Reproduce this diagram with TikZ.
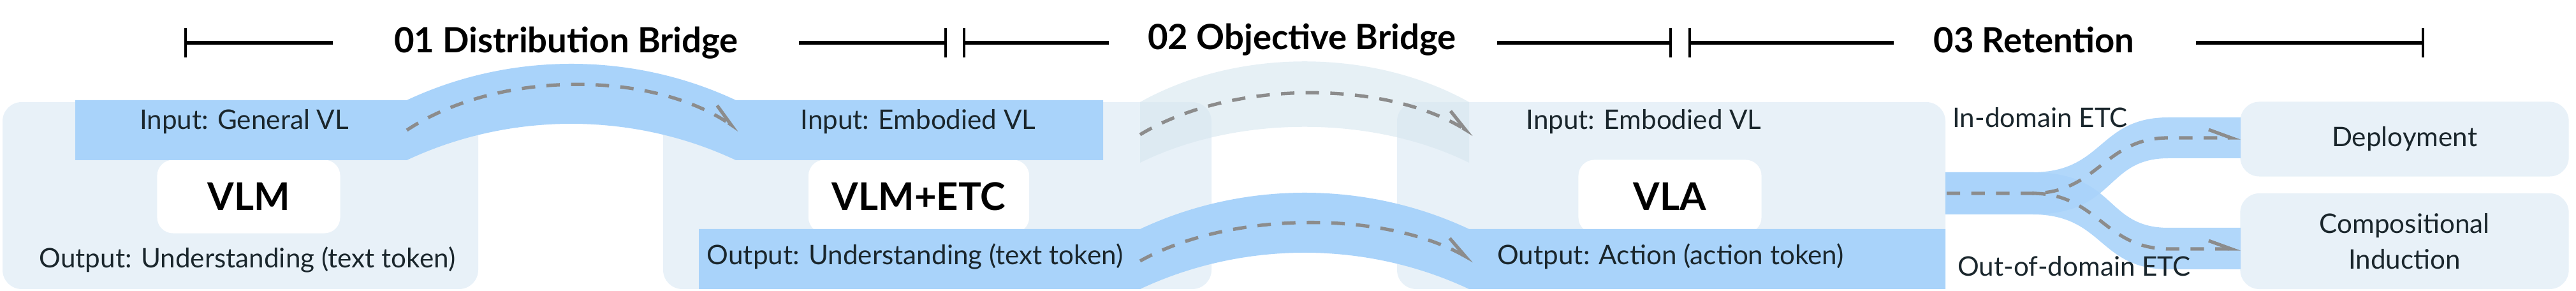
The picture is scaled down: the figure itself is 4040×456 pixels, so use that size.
\documentclass[tikz,border=0pt]{standalone}
\usepackage{fontspec}
\setmainfont{Lato}
\usetikzlibrary{arrows.meta}
\definecolor{panelc}{HTML}{E8F1F8}
\definecolor{bandc}{HTML}{A9D3FA}
\definecolor{ghostc}{HTML}{D6E6EF}
\definecolor{dashc}{HTML}{8C8C8C}
\definecolor{txtc}{HTML}{1A262C}
\begin{document}
\begin{tikzpicture}[x=0.01cm,y=-0.01cm,
  panel/.style={fill=panelc,rounded corners=0.3cm},
  wbox/.style={fill=white,rounded corners=0.25cm},
  band/.style={fill=bandc},
  flow/.style={draw=dashc,line width=1.5pt,dash pattern=on 6pt off 5pt,-{Straight Barb[left,length=10pt,angle'=40,line width=1.5pt]}},
  lbl/.style={text=txtc,font=\fontsize{12}{14}\selectfont},
  model/.style={font=\fontsize{17}{20}\selectfont\bfseries},
  ttl/.style={font=\fontsize{15.5}{18}\selectfont\bfseries},
  brk/.style={line width=1.5pt},
  tick/.style={line width=0.9pt}]
\useasboundingbox (0,0) rectangle (4040,456);
% panels
\fill[panel] (4,160) rectangle (750,453);
\fill[panel] (1040,160) rectangle (1900,453);
\fill[panel] (2191,160) rectangle (3051,453);
\node[panel,minimum width=5.15cm,minimum height=1.17cm] (dep) at (3771,218) {};
\node[panel,minimum width=5.15cm,minimum height=1.5cm] (ci) at (3771,378) {};
% white model boxes
\node[wbox,minimum width=2.87cm,minimum height=1.15cm] (vlm) at (390,308) {};
\node[wbox,minimum width=3.46cm,minimum height=1.15cm] (vlmetc) at (1441,308) {};
\node[wbox,minimum width=2.87cm,minimum height=1.15cm] (vla) at (2619,308) {};
% ghost arch
\fill[ghostc,opacity=0.6] (1788,160) .. controls (1940,75) and (2152,75) .. (2304,160) -- (2304,255) .. controls (2152,180) and (1940,180) .. (1788,255) -- cycle;
% input band
\fill[band] (118,157) -- (638,157) .. controls (800,81) and (992,81) .. (1154,157) -- (1730,157) -- (1730,251) -- (1154,251) .. controls (992,175) and (800,175) .. (638,251) -- (118,251) -- cycle;
% output band
\fill[band] (1096,359) -- (1788,359) .. controls (1950,283) and (2142,283) .. (2304,359) -- (3051,359) -- (3051,453) -- (2304,453) .. controls (2142,377) and (1950,377) .. (1788,453) -- (1096,453) -- cycle;
% retention branches
\fill[band,opacity=0.9] (3051,270) -- (3187,270) .. controls (3300,270) and (3290,184) .. (3401,184) -- (3514,184) -- (3514,248) -- (3401,248) .. controls (3300,248) and (3320,336) .. (3187,336) -- (3051,336) -- cycle;
\fill[band,opacity=0.9] (3051,270) -- (3187,270) .. controls (3320,270) and (3300,357) .. (3401,357) -- (3514,357) -- (3514,422) -- (3401,422) .. controls (3290,422) and (3300,336) .. (3187,336) -- (3051,336) -- cycle;
% texts
\node[model] (tvlm) at (vlm) {VLM};
\node[model] (tvlmetc) at (vlmetc) {VLM+ETC};
\node[model] (tvla) at (vla) {VLA};
\node[lbl] (in1) at (383,191) {Input: General VL};
\node[lbl] (in2) at (1440,191) {Input: Embodied VL};
\node[lbl] (in3) at (2578,191) {Input: Embodied VL};
\node[lbl] (out1) at (388,407) {Output: Understanding (text token)};
\node[lbl] (out2) at (1435,402) {Output: Understanding (text token)};
\node[lbl] (out3) at (2620,402) {Output: Action (action token)};
\node[lbl,anchor=west] (indom) at (3050,184) {In-domain ETC};
\node[lbl,anchor=west] (outdom) at (3058,417) {Out-of-domain ETC};
\node[lbl] (tdep) at (dep) {Deployment};
\node[lbl,align=center] (tci) at (ci) {Compositional\\[2pt]Induction};
% flow coordinates
\coordinate (a1) at (638,204); \coordinate (b1) at (1159,204);
\coordinate (a2) at (1788,211); \coordinate (b2) at (2311,211);
\coordinate (a3) at (1788,409); \coordinate (b3) at (2311,409);
\coordinate (r0) at (3053,303); \coordinate (r1) at (3187,303);
\coordinate (ru) at (3514,216); \coordinate (rl) at (3514,390);
\draw[flow] (a1) .. controls (780,110) and (1020,110) .. (b1);
\draw[flow] (a2) .. controls (1930,125) and (2170,125) .. (b2);
\draw[flow] (a3) .. controls (1930,330) and (2170,330) .. (b3);
\draw[flow] (r0) -- (r1) .. controls (3290,303) and (3300,216) .. (3401,216) -- (ru);
\draw[flow] (r1) .. controls (3290,303) and (3300,390) .. (3401,390) -- (rl);
% title brackets
\node[ttl] (t1) at (888,67) {01 Distribution Bridge};
\node[ttl] (t2) at (2042,62) {02 Objective Bridge};
\node[ttl] (t3) at (3190,62) {03 Retention};
\coordinate (s1) at (291,67); \coordinate (e1) at (1483,67);
\coordinate (s2) at (1512,67); \coordinate (e2) at (2620,67);
\coordinate (s3) at (2650,67); \coordinate (e3) at (3800,67);
\draw[brk] (s1) -- (522,67) (1253,67) -- (e1);
\draw[brk] (s2) -- (1739,67) (2348,67) -- (e2);
\draw[brk] (s3) -- (2970,67) (3444,67) -- (e3);
\foreach \p in {s1,e1,s2,e2,s3,e3} \draw[tick] ([yshift=-0.23cm]\p) -- ([yshift=0.23cm]\p);
\end{tikzpicture}
\end{document}
